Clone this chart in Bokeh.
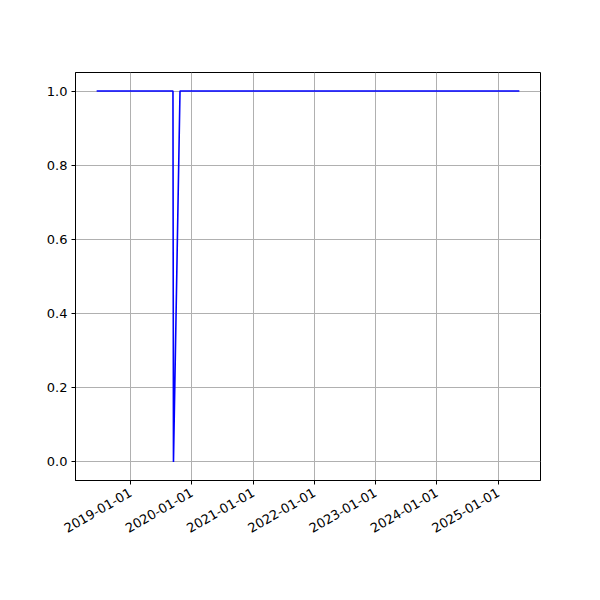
import math
import pandas as pd
from bokeh.plotting import figure
from bokeh.models import FixedTicker, DatetimeTickFormatter, Range1d, NumeralTickFormatter
from bokeh.embed import file_html
from bokeh.resources import INLINE

dates = ["2018-06-12", "2019-09-10", "2019-09-13", "2019-10-22", "2025-05-06"]
values = [1.0, 1.0, 0.0, 1.0, 1.0]
x_tick_labels = ["2019-01-01", "2020-01-01", "2021-01-01", "2022-01-01",
                 "2023-01-01", "2024-01-01", "2025-01-01"]
y_ticks = [0.0, 0.2, 0.4, 0.6, 0.8, 1.0]

xs = pd.to_datetime(dates)
span = xs.max() - xs.min()
x_start = xs.min() - span * 0.05
x_end = xs.max() + span * 0.05
ymin, ymax = min(values), max(values)
ypad = (ymax - ymin) * 0.05

p = figure(width=600, height=600, x_axis_type="datetime",
           output_backend="svg", toolbar_location=None,
           x_range=Range1d(x_start, x_end),
           y_range=Range1d(ymin - ypad, ymax + ypad),
           min_border_left=75, min_border_right=60,
           min_border_top=72, min_border_bottom=120)

p.line(xs, values, line_color="blue", line_width=1.6)

tick_ms = [pd.Timestamp(t).value / 1e6 for t in x_tick_labels]
p.xaxis.ticker = FixedTicker(ticks=tick_ms)
p.xaxis.formatter = DatetimeTickFormatter(days="%Y-%m-%d", months="%Y-%m-%d",
                                          years="%Y-%m-%d")
p.xaxis.major_label_orientation = math.pi / 6
p.yaxis.ticker = FixedTicker(ticks=y_ticks)
p.yaxis.formatter = NumeralTickFormatter(format="0.0")

for ax in (p.xaxis, p.yaxis):
    ax.axis_line_color = "black"
    ax.axis_line_width = 1
    ax.major_tick_line_color = "black"
    ax.major_tick_in = 0
    ax.major_tick_out = 4
    ax.minor_tick_line_color = None
    ax.major_label_text_font = "DejaVu Sans"
    ax.major_label_text_font_size = "13px"
    ax.major_label_text_color = "black"
    ax.major_label_standoff = 4
p.xaxis.major_label_standoff = 7

p.grid.grid_line_color = "#b0b0b0"
p.grid.grid_line_width = 1
p.outline_line_color = "black"
p.outline_line_width = 1
p.outline_line_alpha = 1
p.background_fill_color = "white"
p.border_fill_color = "white"

open("out.html", "w").write(file_html(p, INLINE))
